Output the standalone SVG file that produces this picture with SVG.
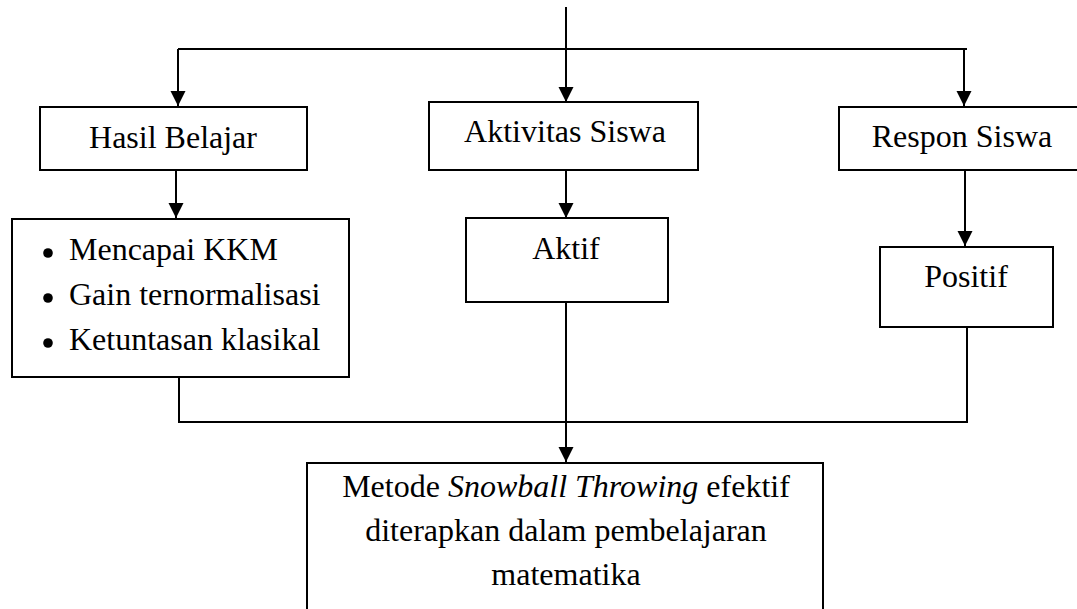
<svg xmlns="http://www.w3.org/2000/svg" width="1077" height="609" viewBox="0 0 1077 609">
<style>
.box{fill:#fff;stroke:#000;stroke-width:2}
.t{font-family:"Liberation Serif","Times New Roman",serif;font-size:32px;fill:#000}
.c{text-anchor:middle}
.ln{fill:none;stroke:#000;stroke-width:2}
.ar{fill:none;stroke:#000;stroke-width:2;marker-end:url(#ah)}
</style>
<defs>
<marker id="ah" markerUnits="userSpaceOnUse" markerWidth="16" markerHeight="16" viewBox="0 0 16 16" refX="15" refY="8" orient="auto">
<path d="M0,0.5 L15,8 L0,15.5 Z" fill="#000"/>
</marker>
</defs>
<g id="connectors">
<line class="ar" x1="566" y1="7" x2="566" y2="102"/>
<polyline class="ln" points="178,49 967,49"/>
<line class="ar" x1="178" y1="49" x2="178" y2="106"/>
<line class="ar" x1="964" y1="49" x2="964" y2="106"/>
<line class="ar" x1="176" y1="171" x2="176" y2="218"/>
<line class="ar" x1="566" y1="171" x2="566" y2="218"/>
<line class="ar" x1="965" y1="171" x2="965" y2="246"/>
<polyline class="ln" points="179,377 179,422 967,422 967,327"/>
<line class="ar" x1="566" y1="302" x2="566" y2="462"/>
</g>
<g id="hasil-belajar">
<rect class="box" x="40" y="107" width="267" height="63"/>
<text class="t c" x="173" y="148">Hasil Belajar</text>
</g>
<g id="aktivitas-siswa">
<rect class="box" x="429" y="102" width="269" height="68"/>
<text class="t c" x="565" y="142">Aktivitas Siswa</text>
</g>
<g id="respon-siswa">
<rect class="box" x="839" y="107" width="240" height="63"/>
<text class="t c" x="962" y="147">Respon Siswa</text>
</g>
<g id="indikator-hasil">
<rect class="box" x="12" y="219" width="337" height="158"/>
<circle cx="48" cy="253" r="4.8"/>
<circle cx="48" cy="298" r="4.8"/>
<circle cx="48" cy="343" r="4.8"/>
<text class="t" x="69" y="260">Mencapai KKM</text>
<text class="t" x="69" y="305">Gain ternormalisasi</text>
<text class="t" x="69" y="350">Ketuntasan klasikal</text>
</g>
<g id="aktif">
<rect class="box" x="466" y="218" width="202" height="84"/>
<text class="t c" x="566" y="259">Aktif</text>
</g>
<g id="positif">
<rect class="box" x="880" y="247" width="173" height="80"/>
<text class="t c" x="966" y="287">Positif</text>
</g>
<g id="kesimpulan">
<rect class="box" x="307" y="463" width="516" height="160"/>
<text class="t c" x="566" y="497">Metode <tspan font-style="italic">Snowball Throwing</tspan> efektif</text>
<text class="t c" x="566" y="541">diterapkan dalam pembelajaran</text>
<text class="t c" x="566" y="585">matematika</text>
</g>
</svg>
